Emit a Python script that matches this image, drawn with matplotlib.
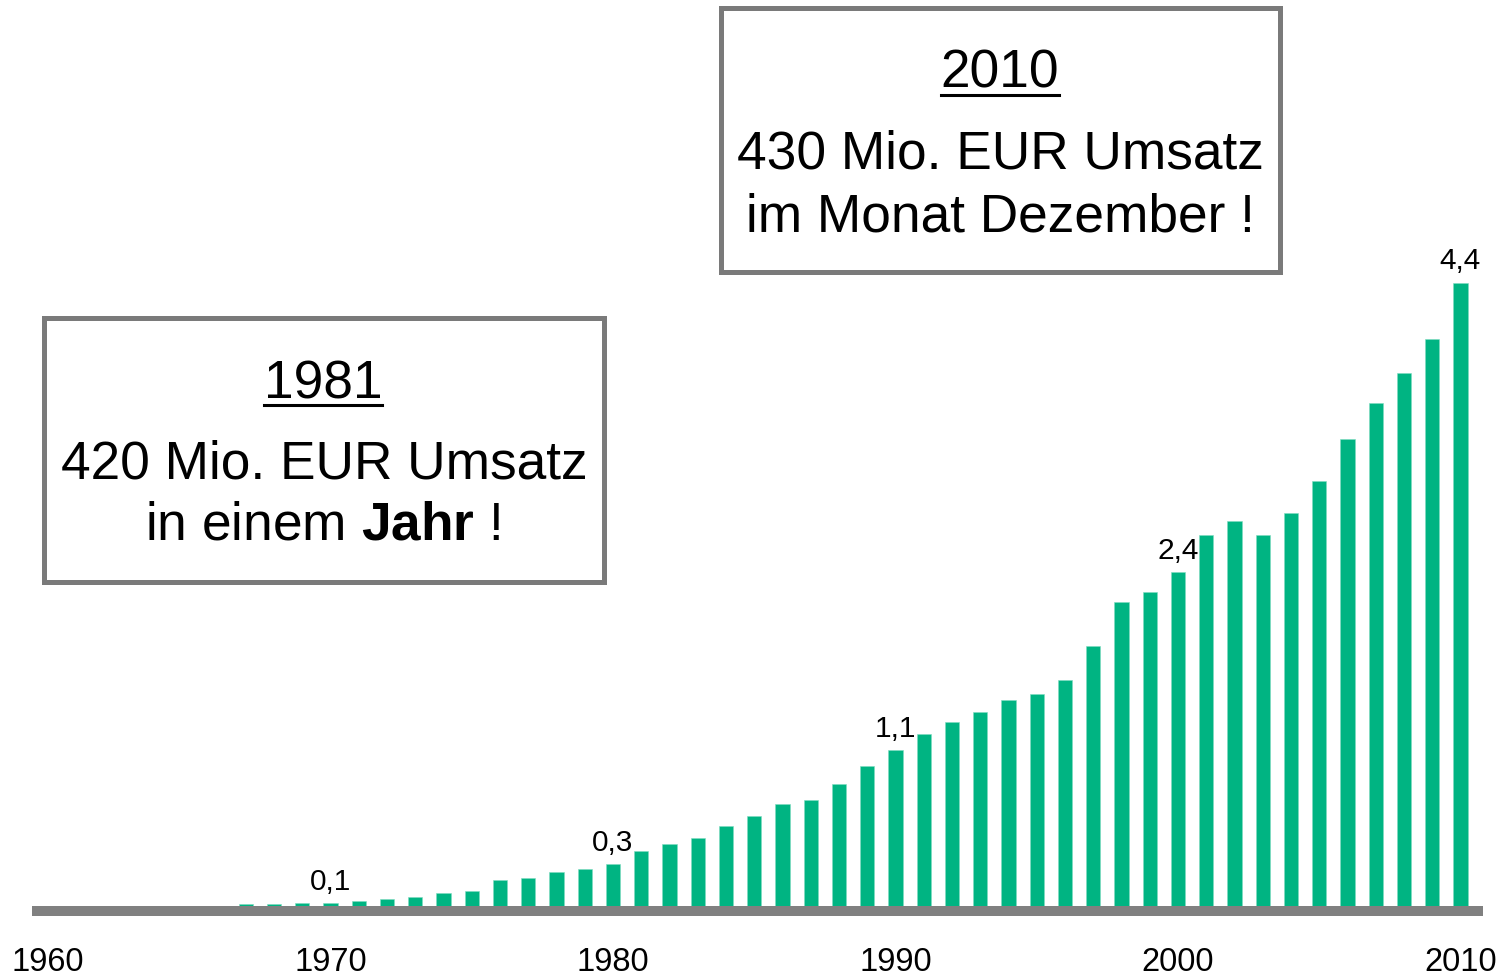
import matplotlib
matplotlib.use("Agg")
import matplotlib.pyplot as plt
from matplotlib.patches import Rectangle
from matplotlib.lines import Line2D

plt.rcParams['font.family'] = ['Liberation Sans', 'DejaVu Sans']
plt.rcParams['mathtext.fontset'] = 'custom'
plt.rcParams['mathtext.rm'] = 'Liberation Sans'
plt.rcParams['mathtext.bf'] = 'Liberation Sans:bold'

# ---- data ----
years = list(range(1967, 2011))
values = [0.047, 0.047, 0.058, 0.058, 0.072, 0.086, 0.100, 0.128, 0.142, 0.215,
          0.229, 0.271, 0.296, 0.327, 0.422, 0.467, 0.509, 0.593, 0.663, 0.747,
          0.775, 0.887, 1.015, 1.127, 1.239, 1.324, 1.394, 1.478, 1.520, 1.618,
          1.858, 2.166, 2.236, 2.376, 2.633, 2.729, 2.633, 2.785, 3.009, 3.305,
          3.557, 3.768, 4.006, 4.400]
label_years = [1970, 1980, 1990, 2000, 2010]
label_texts = ["0,1", "0,3", "1,1", "2,4", "4,4"]
tick_years = [1960, 1970, 1980, 1990, 2000, 2010]
tick_labels = ["1960", "1970", "1980", "1990", "2000", "2010"]

GREEN = "#00B482"
GRAY = "#808080"

W, H = 1499, 980
fig = plt.figure(figsize=(W / 100, H / 100), dpi=100)

def fx(x):
    return x / W

def fy(y):
    return 1 - y / H

# axes: bottom spine is the grey baseline
left_px, right_px, base_px = 32, 1483, 911
ax = fig.add_axes([fx(left_px), fy(base_px), fx(right_px) - fx(left_px), 1 - fy(base_px)])
px_per_year = 28.25
px_per_unit = 142.8
ax.set_xlim(1960 + (left_px - 48) / px_per_year, 1960 + (right_px - 48) / px_per_year)
ax.set_ylim(0, base_px / px_per_unit)

ax.bar(years, values, width=0.5, color=GREEN, edgecolor="#7fdcc0", linewidth=0.4, zorder=2)

for s in ["top", "left", "right"]:
    ax.spines[s].set_visible(False)
sp = ax.spines["bottom"]
sp.set_color(GRAY)
sp.set_linewidth(7.2)
sp.set_zorder(3)
sp.set_capstyle("butt")
ax.set_yticks([])
ax.set_xticks(tick_years)
ax.set_xticklabels(tick_labels, fontsize=23.5)
ax.tick_params(axis="x", length=0, pad=26)
ax.patch.set_alpha(0)

for yr, txt in zip(label_years, label_texts):
    v = values[years.index(yr)]
    ax.annotate(txt, (yr, v), xytext=(0, 9.5), textcoords="offset points",
                ha="center", va="baseline", fontsize=21.5)

# ---- boxes ----
def box(x0, y0, x1, y1):
    r = Rectangle((fx(x0), fy(y1)), fx(x1) - fx(x0), fy(y0) - fy(y1),
                  transform=fig.transFigure, facecolor="white", edgecolor="#7a7a7a",
                  linewidth=3.6, zorder=5)
    fig.add_artist(r)

box(44, 318, 604, 582)
box(721, 8, 1280, 272)

FS = 38.3
t1 = fig.text(fx(323), fy(398.5), "1981", ha="center", va="baseline", fontsize=FS, zorder=6)
fig.text(fx(324), fy(478.5), "420 Mio. EUR Umsatz", ha="center", va="baseline", fontsize=FS, zorder=6)
fig.text(fx(323), fy(540), r"in einem $\mathbf{Jahr}$ !", ha="center", va="baseline", fontsize=FS, zorder=6)

t2 = fig.text(fx(1000), fy(87.5), "2010", ha="center", va="baseline", fontsize=FS, zorder=6)
fig.text(fx(1000), fy(168.5), "430 Mio. EUR Umsatz", ha="center", va="baseline", fontsize=FS, zorder=6)
fig.text(fx(1000), fy(231.5), "im Monat Dezember !", ha="center", va="baseline", fontsize=FS, zorder=6)

fig.canvas.draw()
renderer = fig.canvas.get_renderer()
for t, uy in [(t1, 405), (t2, 95)]:
    bb = t.get_window_extent(renderer)
    ln = Line2D([bb.x0 / W, bb.x1 / W], [fy(uy), fy(uy)], transform=fig.transFigure,
                color="black", linewidth=2.2, zorder=6)
    fig.add_artist(ln)

fig.savefig("out.png", dpi=100)
